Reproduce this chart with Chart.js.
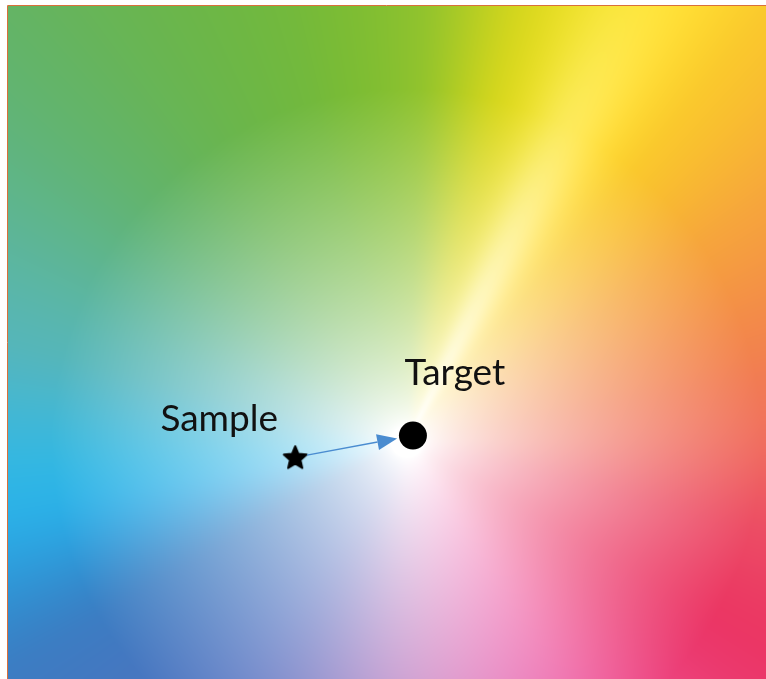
<!DOCTYPE html>
<html>
<head>
<meta charset="utf-8">
<script src="https://cdn.jsdelivr.net/npm/chart.js@4.4.0/dist/chart.umd.min.js"></script>
<style>
html, body { margin: 0; padding: 0; background: #fff; }
</style>
</head>
<body>
<canvas id="myChart" width="766" height="679"></canvas>
<script>
var pointNames = ["Sample", "Target"];
var xValues = [-28, 1.5];
var yValues = [-4, 1.5];

// hue wheel around the white point: angle (deg) -> colour at full strength
var hueAngles = [0, 14, 34, 50, 62, 75, 88, 105, 132, 166, 189, 210, 240, 272, 300, 327, 345, 360];
var hueColors = [
  [240, 110, 95], [242, 130, 78], [246, 165, 60], [250, 200, 45], [253, 228, 50],
  [215, 215, 30], [145, 195, 45], [115, 185, 60], [100, 180, 100], [85, 182, 185],
  [45, 178, 230], [60, 125, 195], [100, 120, 195], [195, 130, 195], [235, 100, 170],
  [235, 55, 105], [236, 75, 100], [240, 110, 95]
];

// smooth (catmull-rom) lookup so the wheel has no visible seams
function hueAt(a) {
  var n = hueAngles.length;
  for (var i = 1; i < n; i++) {
    if (a <= hueAngles[i]) {
      var f = (a - hueAngles[i - 1]) / (hueAngles[i] - hueAngles[i - 1]);
      var p0 = hueColors[i - 2 < 0 ? n - 2 : i - 2];
      var p1 = hueColors[i - 1], p2 = hueColors[i];
      var p3 = hueColors[i + 1 >= n ? 1 : i + 1];
      var out = [];
      for (var c = 0; c < 3; c++) {
        var v = 0.5 * ((2 * p1[c]) + (-p0[c] + p2[c]) * f +
          (2 * p0[c] - 5 * p1[c] + 4 * p2[c] - p3[c]) * f * f +
          (-p0[c] + 3 * p1[c] - 3 * p2[c] + p3[c]) * f * f * f);
        out.push(Math.max(0, Math.min(255, v)));
      }
      return out;
    }
  }
  return hueColors[0];
}

var bgPlugin = {
  id: 'colourPlane',
  beforeDatasetsDraw: function (chart) {
    var ctx = chart.ctx, area = chart.chartArea;
    var xs = chart.scales.x, ys = chart.scales.y;
    var w = Math.round(area.right - area.left), h = Math.round(area.bottom - area.top);
    var img = ctx.createImageData(w, h);
    for (var py = 0; py < h; py++) {
      var dy = ys.getValueForPixel(area.top + py + 0.5);
      for (var px = 0; px < w; px++) {
        var dx = xs.getValueForPixel(area.left + px + 0.5);
        var a = Math.atan2(dy, dx) * 180 / Math.PI;
        if (a < 0) a += 360;
        var r = Math.sqrt(dx * dx + dy * dy);
        var t = Math.min(1, Math.max(0, (r - 4) / 85));
        t = Math.pow(t, 0.75);
        // pale streak along the yellow direction
        var d = (a - 63) / 6;
        t *= 1 - 0.55 * Math.exp(-d * d) * Math.max(0, 1 - r / 140);
        var c = hueAt(a);
        var k = (py * w + px) * 4;
        img.data[k] = 255 + (c[0] - 255) * t;
        img.data[k + 1] = 255 + (c[1] - 255) * t;
        img.data[k + 2] = 255 + (c[2] - 255) * t;
        img.data[k + 3] = 255;
      }
    }
    ctx.putImageData(img, area.left, area.top);
    // thin frame on top and left
    ctx.save();
    ctx.strokeStyle = '#d9703a';
    ctx.lineWidth = 1;
    ctx.beginPath();
    ctx.moveTo(area.left - 0.5, area.bottom);
    ctx.lineTo(area.left - 0.5, area.top - 0.5);
    ctx.lineTo(area.right, area.top - 0.5);
    ctx.stroke();
    ctx.restore();
  },
  afterDatasetsDraw: function (chart) {
    var ctx = chart.ctx;
    var xs = chart.scales.x, ys = chart.scales.y;
    var x0 = xs.getPixelForValue(xValues[0]), y0 = ys.getPixelForValue(yValues[0]);
    var x1 = xs.getPixelForValue(xValues[1]), y1 = ys.getPixelForValue(yValues[1]);
    var ang = Math.atan2(y1 - y0, x1 - x0);
    var sx = x0 + Math.cos(ang) * 12, sy = y0 + Math.sin(ang) * 12;
    var ex = x1 - Math.cos(ang) * 16, ey = y1 - Math.sin(ang) * 16;
    var hl = 20, hw = 8;
    var bx = ex - Math.cos(ang) * hl, by = ey - Math.sin(ang) * hl;
    ctx.save();
    ctx.strokeStyle = '#4a8cd0';
    ctx.fillStyle = '#4a8cd0';
    ctx.lineWidth = 1.5;
    ctx.beginPath();
    ctx.moveTo(sx, sy);
    ctx.lineTo(bx, by);
    ctx.stroke();
    ctx.beginPath();
    ctx.moveTo(ex, ey);
    ctx.lineTo(bx - Math.sin(ang) * hw, by + Math.cos(ang) * hw);
    ctx.lineTo(bx + Math.sin(ang) * hw, by - Math.cos(ang) * hw);
    ctx.closePath();
    ctx.fill();
    // labels
    ctx.fillStyle = '#111';
    ctx.font = '37px Lato, "Open Sans", sans-serif';
    ctx.textAlign = 'center';
    ctx.textBaseline = 'alphabetic';
    ctx.fillText(pointNames[0], x0 - 76, y0 - 26);
    ctx.fillText(pointNames[1], x1 + 42, y1 - 51);
    ctx.restore();
  }
};

function makeStar() {
  var c = document.createElement('canvas');
  c.width = 28; c.height = 28;
  var g = c.getContext('2d');
  g.fillStyle = '#000';
  g.strokeStyle = '#000';
  g.lineWidth = 2;
  g.lineJoin = 'round';
  g.beginPath();
  for (var i = 0; i < 10; i++) {
    var r = i % 2 === 0 ? 12 : 5.5;
    var a = -Math.PI / 2 + i * Math.PI / 5;
    var px = 14 + Math.cos(a) * r, py = 15 + Math.sin(a) * r;
    if (i === 0) g.moveTo(px, py); else g.lineTo(px, py);
  }
  g.closePath();
  g.fill();
  g.stroke();
  return c;
}

new Chart("myChart", {
  type: "scatter",
  data: {
    labels: pointNames,
    datasets: [{
      data: xValues.map(function (x, i) { return { x: x, y: yValues[i] }; }),
      pointStyle: [makeStar(), 'circle'],
      pointRadius: [12, 14],
      backgroundColor: '#000',
      borderColor: '#000',
      borderWidth: 0
    }]
  },
  options: {
    responsive: false,
    animation: false,
    layout: { autoPadding: false, padding: { left: 8, top: 6, right: 0, bottom: 0 } },
    plugins: { legend: { display: false }, tooltip: { enabled: false } },
    scales: {
      x: { type: 'linear', display: false, min: -100, max: 90 },
      y: { type: 'linear', display: false, min: -60, max: 110 }
    }
  },
  plugins: [bgPlugin]
});
</script>
</body>
</html>
